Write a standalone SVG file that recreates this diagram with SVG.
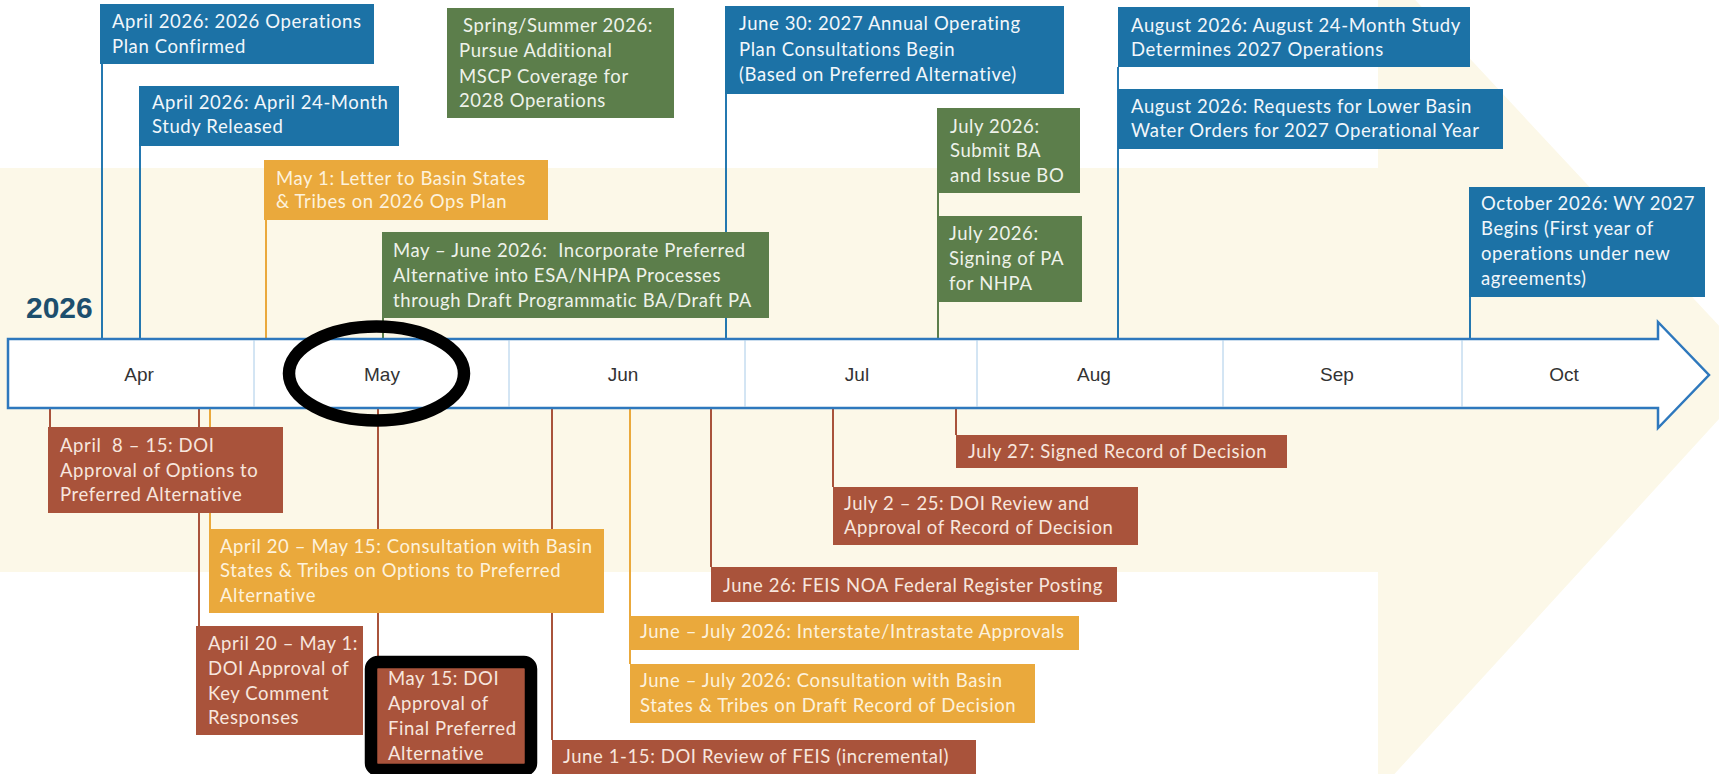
<svg xmlns="http://www.w3.org/2000/svg" width="1719" height="774" viewBox="0 0 1719 774">
<style>
.bg{fill:#fcf8e8}
.blue{fill:#1c72a6}
.green{fill:#5c7e4b}
.orange{fill:#eaa93c}
.brown{fill:#a9533b}
.t{font-family:Lato,"Liberation Sans",sans-serif;font-size:18.5px;letter-spacing:0.6px}
.pre{white-space:pre}
.tb{fill:#f2f7fb}
.tg{fill:#eef2ea}
.to{fill:#fdf2dc}
.tr{fill:#f7e6de}
.lb{stroke:#2478b0;stroke-width:2;fill:none}
.lg{stroke:#5c7e4b;stroke-width:2;fill:none}
.lo{stroke:#eaa93c;stroke-width:2;fill:none}
.lr{stroke:#a9533b;stroke-width:2;fill:none}
.month{font-family:"Liberation Sans",Arial,sans-serif;font-size:19px;fill:#333;text-anchor:middle}
.div{stroke:#a8cbe8;stroke-width:1}
.mark{fill:none;stroke:#000;stroke-width:12.5}
</style>
<rect width="1719" height="774" fill="#fff"/>
<path class="bg" d="M0,168 H1378 V-40 L1762,372 L1378,792 V572 H0 Z"/>

<g id="connectors">
<line class="lb" x1="102" y1="64" x2="102" y2="339"/>
<line class="lb" x1="140" y1="146" x2="140" y2="339"/>
<line class="lo" x1="266" y1="220" x2="266" y2="339"/>
<line class="lg" x1="383" y1="318" x2="383" y2="339"/>
<line class="lb" x1="726" y1="94" x2="726" y2="339"/>
<line class="lg" x1="938" y1="108" x2="938" y2="339"/>
<line class="lb" x1="1118" y1="67" x2="1118" y2="339"/>
<line class="lb" x1="1470" y1="297" x2="1470" y2="340"/>
<line class="lr" x1="50" y1="408" x2="50" y2="427"/>
<line class="lr" x1="199" y1="408" x2="199" y2="626"/>
<line class="lo" x1="210" y1="408" x2="210" y2="529"/>
<line class="lr" x1="378" y1="408" x2="378" y2="668"/>
<line class="lr" x1="552" y1="408" x2="552" y2="740"/>
<line class="lo" x1="630" y1="408" x2="630" y2="664"/>
<line class="lr" x1="711" y1="408" x2="711" y2="567"/>
<line class="lr" x1="833" y1="408" x2="833" y2="487"/>
<line class="lr" x1="956" y1="408" x2="956" y2="435"/>
</g>

<g id="timeline">
<path d="M8,339 H1658 V322 L1709,375 L1658,428 V408 H8 Z" fill="#fff" stroke="#2e78bd" stroke-width="2.5"/>
<line class="div" x1="254" y1="340" x2="254" y2="407"/>
<line class="div" x1="509" y1="340" x2="509" y2="407"/>
<line class="div" x1="745" y1="340" x2="745" y2="407"/>
<line class="div" x1="977" y1="340" x2="977" y2="407"/>
<line class="div" x1="1223" y1="340" x2="1223" y2="407"/>
<line class="div" x1="1462" y1="340" x2="1462" y2="407"/>
<text class="month" x="139" y="381">Apr</text>
<text class="month" x="382" y="381">May</text>
<text class="month" x="623" y="381">Jun</text>
<text class="month" x="857" y="381">Jul</text>
<text class="month" x="1094" y="381">Aug</text>
<text class="month" x="1337" y="381">Sep</text>
<text class="month" x="1564" y="381">Oct</text>
<text x="26" y="318" font-family="Liberation Sans,Arial,sans-serif" font-weight="bold" font-size="30" fill="#1d4f6e">2026</text>
</g>

<g id="n-ops"><rect class="blue" x="100" y="4" width="274" height="60"/>
<text class="t tb" x="112" y="28">April 2026: 2026 Operations</text><text class="t tb" x="112" y="53">Plan Confirmed</text></g>
<g id="n-a24"><rect class="blue" x="139" y="86" width="260" height="60"/>
<text class="t tb" x="152" y="109">April 2026: April 24-Month</text><text class="t tb" x="152" y="133">Study Released</text></g>
<g id="n-may1"><rect class="orange" x="264" y="160" width="284" height="60"/>
<text class="t to" x="276" y="185">May 1: Letter to Basin States</text><text class="t to" x="276" y="208">&amp; Tribes on 2026 Ops Plan</text></g>
<g id="n-mayjune"><rect class="green" x="382" y="232" width="387" height="86"/>
<text class="t tg pre" x="393" y="257">May – June 2026:  Incorporate Preferred</text><text class="t tg" x="393" y="282">Alternative into ESA/NHPA Processes</text><text class="t tg" x="393" y="307">through Draft Programmatic BA/Draft PA</text></g>
<g id="n-spring"><rect class="green" x="447" y="8" width="227" height="110"/>
<text class="t tg" x="463" y="32">Spring/Summer 2026:</text><text class="t tg" x="459" y="57">Pursue Additional</text><text class="t tg" x="459" y="83">MSCP Coverage for</text><text class="t tg" x="459" y="107">2028 Operations</text></g>
<g id="n-june30"><rect class="blue" x="725" y="6" width="339" height="88"/>
<text class="t tb" x="739" y="30">June 30: 2027 Annual Operating</text><text class="t tb" x="739" y="56">Plan Consultations Begin</text><text class="t tb" x="739" y="81">(Based on Preferred Alternative)</text></g>
<g id="n-julyba"><rect class="green" x="938" y="108" width="142" height="85"/>
<text class="t tg" x="950" y="133">July 2026:</text><text class="t tg" x="950" y="157">Submit BA</text><text class="t tg" x="950" y="182">and Issue BO</text></g>
<g id="n-julypa"><rect class="green" x="937" y="216" width="145" height="86"/>
<text class="t tg" x="949" y="240">July 2026:</text><text class="t tg" x="949" y="265">Signing of PA</text><text class="t tg" x="949" y="290">for NHPA</text></g>
<g id="n-aug1"><rect class="blue" x="1118" y="7" width="352" height="60"/>
<text class="t tb" x="1131" y="32">August 2026: August 24-Month Study</text><text class="t tb" x="1131" y="56">Determines 2027 Operations</text></g>
<g id="n-aug2"><rect class="blue" x="1118" y="89" width="385" height="60"/>
<text class="t tb" x="1131" y="113">August 2026: Requests for Lower Basin</text><text class="t tb" x="1131" y="137">Water Orders for 2027 Operational Year</text></g>
<g id="n-oct"><rect class="blue" x="1469" y="187" width="236" height="110"/>
<text class="t tb" x="1481" y="210">October 2026: WY 2027</text><text class="t tb" x="1481" y="235">Begins (First year of</text><text class="t tb" x="1481" y="260">operations under new</text><text class="t tb" x="1481" y="285">agreements)</text></g>

<g id="n-apr8"><rect class="brown" x="48" y="427" width="235" height="86"/>
<text class="t tr pre" x="60" y="452">April  8 – 15: DOI</text><text class="t tr" x="60" y="477">Approval of Options to</text><text class="t tr" x="60" y="501">Preferred Alternative</text></g>
<g id="n-apr20may15"><rect class="orange" x="209" y="529" width="395" height="84"/>
<text class="t to" x="220" y="553">April 20 – May 15: Consultation with Basin</text><text class="t to" x="220" y="577">States &amp; Tribes on Options to Preferred</text><text class="t to" x="220" y="602">Alternative</text></g>
<g id="n-apr20may1"><rect class="brown" x="196" y="626" width="167" height="109"/>
<text class="t tr" x="208" y="650">April 20 – May 1:</text><text class="t tr" x="208" y="675">DOI Approval of</text><text class="t tr" x="208" y="700">Key Comment</text><text class="t tr" x="208" y="724">Responses</text></g>
<g id="n-may15"><rect class="brown" x="377" y="662" width="150" height="108"/>
<text class="t tr" x="388" y="685">May 15: DOI</text><text class="t tr" x="388" y="710">Approval of</text><text class="t tr" x="388" y="735">Final Preferred</text><text class="t tr" x="388" y="760">Alternative</text></g>
<g id="n-june1"><rect class="brown" x="552" y="740" width="424" height="40"/>
<text class="t tr" x="563" y="763">June 1-15: DOI Review of FEIS (incremental)</text></g>
<g id="n-jjinter"><rect class="orange" x="630" y="616" width="449" height="34"/>
<text class="t to" x="640" y="638">June – July 2026: Interstate/Intrastate Approvals</text></g>
<g id="n-jjcons"><rect class="orange" x="630" y="664" width="405" height="59"/>
<text class="t to" x="640" y="687">June – July 2026: Consultation with Basin</text><text class="t to" x="640" y="712">States &amp; Tribes on Draft Record of Decision</text></g>
<g id="n-june26"><rect class="brown" x="711" y="567" width="406" height="35"/>
<text class="t tr" x="723" y="592">June 26: FEIS NOA Federal Register Posting</text></g>
<g id="n-july2"><rect class="brown" x="833" y="487" width="305" height="58"/>
<text class="t tr" x="844" y="510">July 2 – 25: DOI Review and</text><text class="t tr" x="844" y="534">Approval of Record of Decision</text></g>
<g id="n-july27"><rect class="brown" x="956" y="435" width="331" height="33"/>
<text class="t tr" x="968" y="458">July 27: Signed Record of Decision</text></g>

<g id="annotations">
<ellipse class="mark" cx="376.5" cy="373.5" rx="87.5" ry="47"/>
<rect class="mark" x="371" y="662" width="160" height="108" rx="7"/>
</g>
</svg>
